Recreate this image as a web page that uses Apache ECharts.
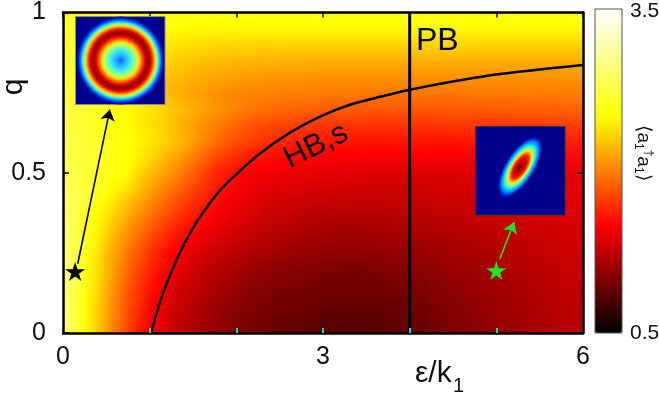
<!DOCTYPE html>
<html><head><meta charset="utf-8">
<script src="https://cdn.jsdelivr.net/npm/echarts@6/dist/echarts.min.js"></script>
<style>html,body{margin:0;padding:0;background:#fff}#c{width:659px;height:395px}</style>
</head><body><div id="c"></div>
<script>
// ---- data ----
const epsCols = [0,0.25,0.5,0.75,1,1.25,1.5,1.75,2,2.25,2.5,2.75,3,3.25,3.5,3.75,4,4.25,4.5,4.75,5,5.25,5.5,5.75,6];
const qRows = [0,0.05,0.1,0.15,0.2,0.25,0.3,0.35,0.4,0.45,0.5,0.55,0.6,0.65,0.7,0.75,0.8,0.85,0.9,0.95,1];
const occupancy = [
 [3.00,2.52,2.12,1.75,1.45,1.28,1.17,1.08,1.00,0.95,0.90,0.87,0.85,0.84,0.84,0.86,0.90,0.94,0.99,1.03,1.08,1.12,1.17,1.21,1.25],
 [3.00,2.54,2.14,1.78,1.49,1.31,1.19,1.10,1.02,0.97,0.93,0.90,0.88,0.87,0.87,0.89,0.92,0.96,1.01,1.05,1.09,1.13,1.18,1.22,1.26],
 [3.00,2.55,2.16,1.81,1.53,1.34,1.22,1.13,1.05,1.00,0.96,0.93,0.91,0.90,0.90,0.92,0.95,0.99,1.03,1.07,1.11,1.15,1.19,1.23,1.27],
 [3.00,2.57,2.19,1.85,1.58,1.39,1.26,1.17,1.10,1.04,1.00,0.97,0.95,0.95,0.95,0.96,0.99,1.02,1.06,1.10,1.14,1.17,1.21,1.25,1.28],
 [3.00,2.58,2.22,1.90,1.64,1.45,1.32,1.23,1.16,1.10,1.05,1.02,1.00,0.99,0.99,1.01,1.03,1.06,1.10,1.13,1.16,1.20,1.23,1.27,1.30],
 [3.00,2.60,2.25,1.95,1.70,1.50,1.38,1.30,1.23,1.17,1.12,1.09,1.07,1.06,1.06,1.07,1.09,1.11,1.14,1.17,1.20,1.23,1.26,1.29,1.32],
 [2.98,2.62,2.31,2.04,1.80,1.61,1.47,1.37,1.30,1.24,1.19,1.15,1.13,1.12,1.12,1.13,1.14,1.16,1.19,1.21,1.24,1.27,1.29,1.32,1.34],
 [2.96,2.65,2.38,2.13,1.91,1.72,1.56,1.45,1.37,1.30,1.25,1.21,1.19,1.18,1.18,1.19,1.20,1.22,1.24,1.26,1.28,1.30,1.32,1.35,1.37],
 [2.93,2.68,2.46,2.24,2.02,1.83,1.66,1.53,1.43,1.36,1.31,1.28,1.26,1.25,1.25,1.25,1.26,1.27,1.29,1.30,1.32,1.34,1.36,1.38,1.39],
 [2.89,2.71,2.54,2.37,2.14,1.95,1.77,1.60,1.48,1.41,1.37,1.35,1.33,1.32,1.31,1.31,1.31,1.32,1.33,1.34,1.35,1.37,1.38,1.40,1.41],
 [2.85,2.72,2.60,2.48,2.25,2.07,1.88,1.66,1.52,1.46,1.43,1.41,1.40,1.39,1.38,1.37,1.37,1.37,1.37,1.38,1.38,1.39,1.40,1.41,1.43],
 [2.82,2.71,2.60,2.50,2.36,2.18,2.00,1.80,1.66,1.58,1.53,1.50,1.48,1.47,1.47,1.47,1.47,1.47,1.47,1.48,1.48,1.49,1.50,1.51,1.52],
 [2.80,2.70,2.60,2.51,2.42,2.29,2.12,1.94,1.80,1.71,1.65,1.61,1.59,1.58,1.58,1.58,1.58,1.58,1.58,1.59,1.59,1.60,1.60,1.61,1.62],
 [2.78,2.68,2.58,2.49,2.39,2.27,2.13,2.00,1.89,1.81,1.76,1.73,1.71,1.70,1.70,1.70,1.70,1.70,1.71,1.71,1.72,1.73,1.73,1.74,1.75],
 [2.76,2.67,2.58,2.49,2.40,2.29,2.18,2.09,2.01,1.95,1.91,1.89,1.87,1.86,1.85,1.85,1.85,1.85,1.85,1.86,1.86,1.87,1.87,1.88,1.88],
 [2.74,2.66,2.56,2.45,2.33,2.21,2.13,2.07,2.03,2.01,2.00,1.99,1.98,1.98,1.97,1.97,1.97,1.97,1.97,1.98,1.98,1.98,1.99,1.99,1.99],
 [2.72,2.65,2.55,2.45,2.34,2.25,2.19,2.15,2.12,2.10,2.09,2.08,2.07,2.07,2.07,2.07,2.07,2.07,2.07,2.07,2.07,2.08,2.08,2.08,2.08],
 [2.70,2.64,2.56,2.47,2.39,2.32,2.27,2.24,2.22,2.21,2.20,2.19,2.19,2.18,2.18,2.18,2.18,2.18,2.18,2.18,2.18,2.18,2.18,2.18,2.18],
 [2.68,2.63,2.57,2.50,2.44,2.40,2.37,2.35,2.34,2.33,2.33,2.33,2.33,2.33,2.33,2.33,2.33,2.33,2.33,2.33,2.33,2.33,2.33,2.33,2.33],
 [2.67,2.63,2.58,2.54,2.51,2.49,2.48,2.47,2.47,2.47,2.47,2.47,2.47,2.47,2.47,2.47,2.47,2.47,2.47,2.47,2.47,2.47,2.47,2.47,2.47],
 [2.66,2.63,2.61,2.60,2.59,2.58,2.58,2.58,2.58,2.58,2.58,2.58,2.58,2.58,2.58,2.58,2.58,2.58,2.58,2.58,2.58,2.58,2.58,2.58,2.58]
];
const hbEps = [1.015,1.062,1.119,1.188,1.258,1.338,1.442,1.558,1.696,1.835,1.985,2.273,2.619,2.965,3.311,3.658,4.004,4.465,5.042,6.0];
const hbQ   = [0,0.046,0.096,0.149,0.195,0.245,0.300,0.353,0.406,0.452,0.492,0.560,0.625,0.675,0.712,0.737,0.759,0.783,0.808,0.836];
const pbEps = 4;
const starBlack = [0.14, 0.192];
const starGreen = [5.0, 0.195];
const arrowBlack = [[0.17, 0.216], [0.54, 0.697]];
const arrowGreen = [[5.04, 0.231], [5.205, 0.346]];
const xTickLabels = [0, 3, 6];
const yTickLabels = [0, 0.5, 1];
const cbarMin = 0.5, cbarMax = 3.5;
const cbarColors = ['#000000', '#ff0000', '#ffff00', '#ffffff'];

// ---- build ----
const FONT = 'Liberation Sans';
const nCols = epsCols.length, nRows = qRows.length;
const cells = [];
qRows.forEach((q, i) => epsCols.forEach((e, j) => cells.push([e, q, occupancy[i][j]])));

// colour of a value, same linear stops as the visualMap colour bar
const stopRGB = cbarColors.map(h => [parseInt(h.slice(1,3),16), parseInt(h.slice(3,5),16), parseInt(h.slice(5,7),16)]);
function colorOf(v) {
  let f = (v - cbarMin) / (cbarMax - cbarMin);
  f = Math.max(0, Math.min(1, f)) * (stopRGB.length - 1);
  const k = Math.min(stopRGB.length - 2, Math.floor(f)), t = f - k;
  const a = stopRGB[k], b = stopRGB[k + 1];
  return 'rgb(' + [0,1,2].map(c => Math.round(a[c] + (b[c] - a[c]) * t)).join(',') + ')';
}

// each node shades the patch up to its right/upper neighbour nodes
const STRIPS = 8;
function renderCell(params, api) {
  const idx = params.dataIndex;
  const row = Math.floor(idx / nCols), col = idx % nCols;
  if (row >= nRows - 1 || col >= nCols - 1) return null;
  const v00 = occupancy[row][col], v10 = occupancy[row][col + 1];
  const v01 = occupancy[row + 1][col], v11 = occupancy[row + 1][col + 1];
  const pA = api.coord([epsCols[col], qRows[row]]);
  const pB = api.coord([epsCols[col + 1], qRows[row + 1]]);
  const x0 = pA[0], x1 = pB[0], yBot = pA[1], yTop = pB[1];
  const h = (yBot - yTop) / STRIPS;
  const children = [];
  for (let k = 0; k < STRIPS; k++) {
    const t = (k + 0.5) / STRIPS;
    const vL = v00 * (1 - t) + v01 * t, vR = v10 * (1 - t) + v11 * t;
    children.push({
      type: 'rect',
      shape: {x: x0, y: yBot - (k + 1) * h, width: x1 - x0 + 0.6, height: h + 0.6},
      style: {fill: {type: 'linear', x: 0, y: 0, x2: 1, y2: 0, colorStops: [
        {offset: 0, color: colorOf(vL)},
        {offset: 0.5, color: colorOf((vL + vR) / 2)},
        {offset: 1, color: colorOf(vR)}]}}
    });
  }
  return {type: 'group', children: children};
}

const starPath = 'path://M50,0 L61.2,34.5 L97.6,34.5 L68.2,55.9 L79.4,90.5 L50,69.1 L20.6,90.5 L31.8,55.9 L2.4,34.5 L38.8,34.5 Z';

const chart = echarts.init(document.getElementById('c'), null, {renderer: 'canvas', width: 659, height: 395});

const axisCommon = {
  type: 'value', min: 0, max: 6, interval: 1, splitLine: {show: false},
  axisLine: {show: true, onZero: false, lineStyle: {color: '#000', width: 2.5}}
};

chart.setOption({
  animation: false,
  backgroundColor: '#fff',
  textStyle: {fontFamily: FONT},
  grid: {left: 63, right: 76, top: 10, bottom: 62, containLabel: false},
  xAxis: [
    Object.assign({}, axisCommon, {
      position: 'bottom', z: 10,
      axisTick: {show: true, inside: true, length: 5, lineStyle: {color: '#00e0e0', width: 2}},
      axisLabel: {margin: 12, fontSize: 25, color: '#111', fontFamily: FONT,
        formatter: v => (xTickLabels.indexOf(v) >= 0 ? String(v) : '')}
    }),
    Object.assign({}, axisCommon, {
      position: 'top', z: 10,
      axisTick: {show: true, inside: true, length: 5, lineStyle: {color: '#000', width: 1.5}},
      axisLabel: {show: false}
    })
  ],
  yAxis: [
    {type: 'value', min: 0, max: 1, interval: 0.5, position: 'left', z: 11, splitLine: {show: false},
     axisLine: {show: true, onZero: false, lineStyle: {color: '#000', width: 2.5}},
     axisTick: {show: true, inside: true, length: 6, lineStyle: {color: '#000', width: 1.5}},
     axisLabel: {margin: 17, fontSize: 25, color: '#111', fontFamily: FONT,
       formatter: v => (yTickLabels.indexOf(v) >= 0 ? String(v) : '')}},
    {type: 'value', min: 0, max: 1, interval: 0.5, position: 'right', z: 11, splitLine: {show: false},
     axisLine: {show: true, onZero: false, lineStyle: {color: '#000', width: 2.5}},
     axisTick: {show: true, inside: true, length: 6, lineStyle: {color: '#000', width: 1.5}},
     axisLabel: {show: false}}
  ],
  visualMap: {
    type: 'continuous', min: cbarMin, max: cbarMax, dimension: 2, seriesIndex: 0,
    calculable: false, show: true, left: 595, top: 9, itemWidth: 27, itemHeight: 324,
    padding: 0, borderWidth: 0, text: null, hoverLink: false,
    inRange: {color: cbarColors}
  },
  series: [
    {type: 'custom', renderItem: renderCell, data: cells, encode: {x: 0, y: 1}, z: 1, silent: true, clip: true},
    {type: 'line', data: hbEps.map((e, i) => [e, hbQ[i]]), smooth: 0.3,
     showSymbol: false, symbol: 'none', lineStyle: {color: '#000', width: 2.5}, z: 5, silent: true},
    {type: 'line', data: [[pbEps, 0], [pbEps, 1]], showSymbol: false, symbol: 'none',
     lineStyle: {color: '#000', width: 3}, z: 5, silent: true},
    {type: 'lines', coordinateSystem: 'cartesian2d', z: 6, silent: true,
     symbol: ['none', 'arrow'], symbolSize: 11,
     lineStyle: {opacity: 1, width: 1.6},
     data: [
       {coords: arrowBlack, lineStyle: {color: '#000', width: 1.6, opacity: 1}, itemStyle: {color: '#000'}},
       {coords: arrowGreen, lineStyle: {color: '#22e622', width: 1.6, opacity: 1}, itemStyle: {color: '#22e622'}}
     ]},
    {type: 'scatter', symbol: starPath, symbolKeepAspect: true, symbolSize: 20, z: 7, silent: true,
     itemStyle: {opacity: 1},
     data: [
       {value: starBlack, itemStyle: {color: '#000', opacity: 1}},
       {value: starGreen, itemStyle: {color: '#22e622', opacity: 1}}
     ]}
  ],
  graphic: [
    // inset 1 (ring)
    {type: 'rect', x: 75.5, y: 16.5, shape: {width: 89.5, height: 88}, z: 100,
     style: {fill: '#00008f', stroke: '#8a8a8a', lineWidth: 1}},
    {type: 'circle', x: 120.5, y: 60.5, shape: {cx: 0, cy: 0, r: 44}, z: 101,
     style: {fill: {type: 'radial', x: 0.5, y: 0.5, r: 0.5, colorStops: [
       {offset: 0, color: '#1060ff'}, {offset: 0.09, color: '#20a0ff'}, {offset: 0.2, color: '#30e0ff'},
       {offset: 0.3, color: '#70ffb0'}, {offset: 0.37, color: '#c8ff40'}, {offset: 0.43, color: '#ffd000'},
       {offset: 0.495, color: '#ff5000'}, {offset: 0.555, color: '#e00000'}, {offset: 0.625, color: '#8c0000'},
       {offset: 0.695, color: '#e00000'}, {offset: 0.745, color: '#ff6000'}, {offset: 0.785, color: '#ffd000'},
       {offset: 0.825, color: '#a0ff60'}, {offset: 0.865, color: '#30e0ff'}, {offset: 0.91, color: '#0080ff'},
       {offset: 0.955, color: '#0020d0'}, {offset: 1, color: '#00008f'}]}}},
    // inset 2 (ellipse)
    {type: 'rect', x: 475.5, y: 126.5, shape: {width: 89.5, height: 88.5}, z: 100,
     style: {fill: '#00008f', stroke: '#333', lineWidth: 1}},
    {type: 'circle', x: 520, y: 167, scaleX: 0.42, rotation: -0.56, shape: {cx: 0, cy: 0, r: 35}, z: 101,
     style: {fill: {type: 'radial', x: 0.5, y: 0.5, r: 0.5, colorStops: [
       {offset: 0, color: '#7a0000'}, {offset: 0.12, color: '#a00000'}, {offset: 0.25, color: '#d40000'},
       {offset: 0.38, color: '#ff2000'}, {offset: 0.46, color: '#ff9000'}, {offset: 0.52, color: '#ffe000'},
       {offset: 0.58, color: '#b0ff50'}, {offset: 0.66, color: '#40ffc0'}, {offset: 0.75, color: '#00c8ff'},
       {offset: 0.85, color: '#0070ff'}, {offset: 0.93, color: '#0020c0'}, {offset: 1, color: '#00008f'}]}}},
    // colorbar frame and labels
    {type: 'rect', x: 595, y: 9, shape: {width: 27, height: 324}, z: 100,
     style: {fill: 'none', stroke: '#555', lineWidth: 1}},
    {type: 'text', x: 630, y: 11, z: 100, style: {text: String(cbarMax), font: '21px "' + FONT + '"', fill: '#111', align: 'left', verticalAlign: 'middle'}},
    {type: 'text', x: 630, y: 333, z: 100, style: {text: String(cbarMin), font: '21px "' + FONT + '"', fill: '#111', align: 'left', verticalAlign: 'middle'}},
    {type: 'text', x: 643, y: 153, rotation: -Math.PI / 2, z: 100,
     style: {text: '{m|⟨a}{s|1}{u|†}{m|a}{s|1}{m|⟩}', align: 'center', verticalAlign: 'middle', fill: '#111',
       rich: {
         m: {fontSize: 19, lineHeight: 30, verticalAlign: 'middle', fontFamily: FONT, fill: '#111'},
         s: {fontSize: 12, lineHeight: 30, verticalAlign: 'bottom', fontFamily: FONT, fill: '#111', padding: [0, 0, 4, 0]},
         u: {fontSize: 12, lineHeight: 30, verticalAlign: 'top', fontFamily: FONT, fill: '#111', padding: [4, 0, 0, 0]}
       }}},
    // axis titles
    {type: 'text', x: 14, y: 87, rotation: Math.PI / 2, z: 100,
     style: {text: 'q', font: '30px "' + FONT + '"', fill: '#111', align: 'center', verticalAlign: 'middle'}},
    {type: 'text', x: 415, y: 374, z: 100,
     style: {text: 'ε/k', font: '30px "' + FONT + '"', fill: '#111', align: 'left', verticalAlign: 'middle'}},
    {type: 'text', x: 453, y: 386, z: 100,
     style: {text: '1', font: '20px "' + FONT + '"', fill: '#111', align: 'left', verticalAlign: 'middle'}},
    // curve labels
    {type: 'text', x: 416, y: 41, z: 100,
     style: {text: 'PB', font: '32px "' + FONT + '"', fill: '#000', align: 'left', verticalAlign: 'middle'}},
    {type: 'text', x: 316, y: 146, rotation: 26 * Math.PI / 180, z: 100,
     style: {text: 'HB,s', font: '31px "' + FONT + '"', fill: '#000', align: 'center', verticalAlign: 'middle'}}
  ]
});
</script></body></html>
